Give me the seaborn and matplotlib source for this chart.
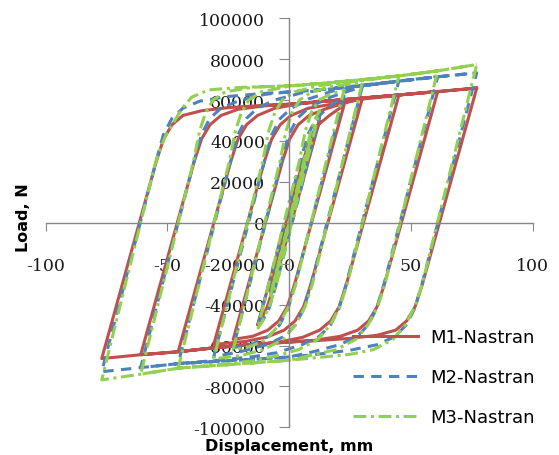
import pandas as pd
import matplotlib
matplotlib.use("Agg")
import matplotlib.pyplot as plt
import seaborn as sns
from matplotlib.ticker import FuncFormatter

# hysteresis paths: (displacement mm, load N)
m1_points = [
    (0, 0), (6, 25000), (-6, -25000), (9, 37000), (-8, -33000),
    (6.7, 30000), (9.7, 41500), (12.5, 50000),
    (-6.1, -30000), (-9, -41000), (-11.5, -47000), (-13, -50000),
    (5.6, 30000), (8.6, 41000), (12, 48000), (16.5, 52500), (22.5, 57500),
    (2.2, -30000), (-0.8, -41000), (-4.3, -48000), (-8.8, -52500), (-15, -55500), (-23, -57000),
    (-2.8, 30000), (0.2, 41000), (3.7, 48000), (8.2, 52500), (15.2, 55800), (22, 58300), (30, 60800),
    (8.9, -30000), (5.9, -41000), (2.4, -48000), (-2.1, -52500), (-9, -55800), (-18, -58000), (-31, -59500),
    (-10.2, 30000), (-7.2, 41000), (-3.7, 48000), (0.8, 52500), (7.8, 56000), (20, 58500), (30, 60500),
    (45, 62300),
    (23.5, -30000), (20.5, -41000), (17, -48000), (12.5, -52500), (5.5, -56000), (-5, -58500),
    (-20, -60000), (-30, -61000), (-45.6, -63000),
    (-24, 30000), (-21, 41000), (-17.5, 48000), (-13, 52500), (-6, 56000), (5, 58300), (20, 60000),
    (35, 61500), (45, 62500), (61, 64300),
    (39.1, -30000), (36.1, -41000), (32.6, -48000), (28.1, -52500), (21, -55500), (10, -57500),
    (0, -58300), (-15, -59500), (-30, -61000), (-45, -63000), (-61, -64500),
    (-39, 30000), (-36, 41000), (-32.5, 48000), (-28, 52500), (-21, 55500), (-10, 57200), (0, 58000),
    (15, 59500), (30, 61000), (45, 62500), (61, 64100), (77, 65900),
    (54.7, -30000), (51.7, -41000), (48.2, -48000), (43.7, -52500), (36, -55000), (25, -56500),
    (10, -57700), (0, -58300), (-15, -59500), (-30, -61000), (-45, -63000), (-61, -64500), (-77, -66400),
    (-54.6, 30000), (-51.6, 41000), (-48.1, 48000), (-43.6, 52500), (-36, 54800), (-25, 56300),
    (-10, 57500), (0, 58000), (15, 59500), (30, 61000), (45, 62500), (61, 64200), (77, 65900),
]

m2_points = [
    (0, 0), (6, 27000), (-6, -27000), (9, 40000), (-8, -36000),
    (6.5, 30000), (9.5, 43000), (12.5, 52000),
    (-5.3, -30000), (-8.3, -42000), (-11, -48000), (-13, -51000),
    (4.6, 30000), (7.6, 43000), (11.1, 51000), (15.6, 56000), (22.5, 62000),
    (2.5, -30000), (-0.5, -42000), (-4, -50000), (-8.5, -55500), (-15.5, -59500), (-23, -61000),
    (-3.2, 30000), (-0.2, 43000), (3.3, 51000), (7.8, 56000), (14.8, 60500), (22, 63500), (30, 66500),
    (9, -30000), (6, -42000), (2.5, -50000), (-2, -55500), (-9, -59500), (-20, -63000), (-31, -65500),
    (-10.2, 30000), (-7.2, 43000), (-3.7, 51000), (0.8, 56000), (7.8, 60500), (18, 64500), (30, 67000),
    (45, 69300),
    (23.4, -30000), (20.4, -42000), (16.9, -50000), (12.4, -55500), (5.4, -59500), (-5, -63500),
    (-15, -65500), (-30, -67300), (-45.6, -68800),
    (-24.1, 30000), (-21.1, 43000), (-17.6, 51000), (-13.1, 56000), (-6.1, 60000), (5, 63500),
    (20, 66000), (35, 68000), (45, 69300), (61, 71500),
    (38.9, -30000), (35.9, -42000), (32.4, -50000), (27.9, -55500), (20.9, -59500), (10, -63000),
    (0, -65600), (-15, -66800), (-30, -67800), (-45, -68800), (-61, -70800),
    (-39.1, 30000), (-36.1, 43000), (-32.6, 51000), (-28.1, 56000), (-21.1, 59500), (-10, 62800),
    (0, 64000), (15, 65300), (30, 67000), (45, 69200), (61, 71400), (77, 73300),
    (54.5, -30000), (51.5, -42000), (48, -50000), (43.5, -55500), (36.5, -59500), (25, -62300),
    (10, -64500), (0, -65600), (-15, -66800), (-30, -67800), (-45, -68800), (-61, -70800), (-77, -72800),
    (-54.7, 30000), (-51.7, 43000), (-48.2, 51000), (-43.7, 56000), (-36.7, 59500), (-25, 61800),
    (-10, 63300), (0, 64000), (15, 65300), (30, 67000), (45, 69200), (61, 71400), (77, 73300),
]

m3_points = [
    (0, 0), (6, 28000), (-6, -28000), (9, 42000), (-8, -37000),
    (6.4, 32000), (8.9, 45000), (11, 51500), (12.5, 55000),
    (-5.2, -30000), (-8.2, -41000), (-11, -48000), (-13, -52000),
    (4.1, 30000), (6.6, 45000), (9.1, 54000), (12.1, 60000), (17.1, 63000), (22.5, 65000),
    (2.7, -30000), (-0.3, -41000), (-4.3, -50000), (-9.3, -57000), (-16, -60500), (-23, -62000),
    (-3.8, 30000), (-1.3, 45000), (1.2, 54000), (4.2, 60000), (9.2, 64000), (18, 66800), (30, 68500),
    (9.5, -30000), (6.5, -41000), (2.5, -50000), (-2.5, -57000), (-10.5, -62000), (-20, -65000),
    (-31, -66500),
    (-10.9, 30000), (-8.4, 45000), (-5.9, 54000), (-2.9, 60000), (2.1, 64000), (12, 67000),
    (30, 69500), (45, 71800),
    (23.8, -30000), (20.8, -41000), (16.8, -50000), (11.8, -57000), (3.8, -62000), (-5, -65000),
    (-15, -67500), (-30, -69500), (-45.6, -71000),
    (-24.6, 30000), (-22.1, 45000), (-19.6, 54000), (-16.6, 60000), (-11.6, 64000), (0, 66800),
    (15, 68300), (30, 70000), (45, 71800), (61, 74300),
    (39.3, -30000), (36.3, -41000), (32.3, -50000), (27.3, -57000), (19.3, -62000), (10, -64500),
    (0, -67200), (-15, -68500), (-30, -69800), (-45, -71000), (-61, -74000),
    (-39.3, 30000), (-36.8, 45000), (-34.3, 54000), (-31.3, 60000), (-26.3, 64000), (-15, 66300),
    (0, 67000), (15, 68300), (30, 70000), (45, 71800), (61, 74300), (77, 77400),
    (54.6, -30000), (51.6, -41000), (47.6, -50000), (42.6, -57000), (34.6, -62000), (25, -64300),
    (15, -65500), (0, -67200), (-15, -68500), (-30, -69800), (-45, -71000), (-61, -74000), (-77, -76800),
    (-54.8, 30000), (-51, 42000), (-47, 50000), (-44, 56000), (-40, 61500), (-33, 65000),
    (-20, 66200), (0, 67000), (15, 68300), (30, 70000), (45, 71800), (61, 74300), (77, 77400),
]

models = ["M1-Nastran", "M2-Nastran", "M3-Nastran"]
colors = {"M1-Nastran": "#C0504D", "M2-Nastran": "#4F81BD", "M3-Nastran": "#92D050"}
dash_styles = {"M1-Nastran": "", "M2-Nastran": (3.4, 2.4), "M3-Nastran": (4.2, 1.5, 1, 1.5)}

x_ticks = [-100, -50, 0, 50, 100]
y_ticks = list(range(-100000, 100001, 20000))

frames = []
for name, pts in zip(models, [m1_points, m2_points, m3_points]):
    d = pd.DataFrame(pts, columns=["disp", "load"])
    d["model"] = name
    frames.append(d)
df = pd.concat(frames, ignore_index=True)

plt.rcParams["axes.unicode_minus"] = False
fig = plt.figure(figsize=(5.59, 4.56), dpi=100)
ax = fig.add_axes([0.0818, 0.0607, 0.8712, 0.897])

sns.lineplot(data=df, x="disp", y="load", hue="model", style="model",
             hue_order=models, style_order=models, palette=colors, dashes=dash_styles,
             sort=False, estimator=None, linewidth=2.2, ax=ax)

ax.set_xlim(-100, 100)
ax.set_ylim(-100000, 100000)
ax.set_xticks(x_ticks)
ax.set_yticks(y_ticks)
ax.yaxis.set_major_formatter(FuncFormatter(lambda v, p: "%d" % v))

for side in ["top", "right"]:
    ax.spines[side].set_visible(False)
ax.spines["left"].set_position(("data", 0))
ax.spines["bottom"].set_position(("data", 0))
for side in ["left", "bottom"]:
    ax.spines[side].set_color("#868686")
    ax.spines[side].set_linewidth(1.0)

ax.tick_params(axis="x", direction="out", length=6, color="#868686", pad=18.5)
ax.tick_params(axis="y", direction="out", length=7, color="#868686", pad=10.3)
for lab in ax.get_xticklabels() + ax.get_yticklabels():
    lab.set_fontfamily("DejaVu Serif")
    lab.set_fontsize(12.5)
    lab.set_color("#1a1a1a")

ax.set_xlabel("Displacement, mm", fontsize=11.5, fontweight="bold")
ax.set_ylabel("Load, N", fontsize=11.5, fontweight="bold")
ax.xaxis.set_label_coords(0.5, -0.026)
ax.yaxis.set_label_coords(-0.03, 0.515)

old = ax.get_legend()
handles = old.legend_handles
labels = [t.get_text() for t in old.texts]
old.remove()
for h in handles:
    h.set_linewidth(2.2)
ax.legend(handles, labels, loc="center left", bbox_to_anchor=(0.6315, 0.171),
          bbox_transform=fig.transFigure, frameon=False, fontsize=13,
          handlelength=3.6, handletextpad=0.66, labelspacing=1.22,
          borderpad=0, borderaxespad=0)

fig.savefig("out.png", dpi=100)
